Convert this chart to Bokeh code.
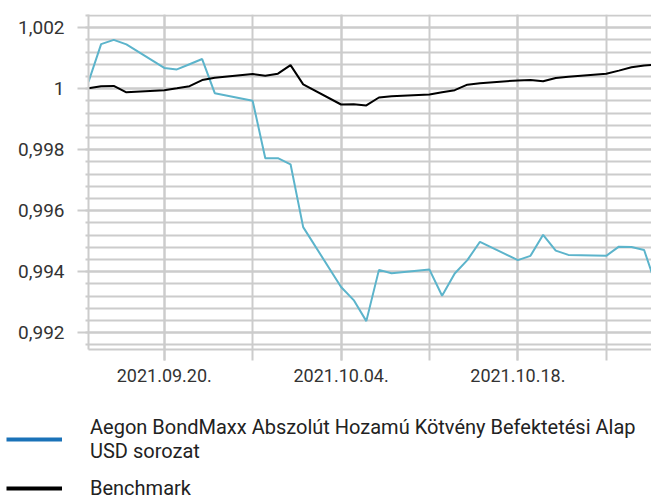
from datetime import datetime, timezone
from bokeh.plotting import figure
from bokeh.layouts import column
from bokeh.models import (ColumnDataSource, FixedTicker, DatetimeTickFormatter,
                          CustomJSTickFormatter, Legend, LegendItem, Range1d)
from bokeh.embed import file_html
from bokeh.resources import INLINE

# ---------------- data ----------------
dates = [
    "2021-09-14", "2021-09-15", "2021-09-16", "2021-09-17",
    "2021-09-20", "2021-09-21", "2021-09-22", "2021-09-23", "2021-09-24",
    "2021-09-27", "2021-09-28", "2021-09-29", "2021-09-30", "2021-10-01",
    "2021-10-04", "2021-10-05", "2021-10-06", "2021-10-07", "2021-10-08",
    "2021-10-11", "2021-10-12", "2021-10-13", "2021-10-14", "2021-10-15",
    "2021-10-18", "2021-10-19", "2021-10-20", "2021-10-21", "2021-10-22",
    "2021-10-25", "2021-10-26", "2021-10-27", "2021-10-28", "2021-10-29",
]
fund = [
    1.00022, 1.00146, 1.00160, 1.00145,
    1.00068, 1.00063, 1.00080, 1.00097, 0.99985,
    0.99960, 0.99772, 0.99772, 0.99752, 0.99546,
    0.99350, 0.99307, 0.99238, 0.99406, 0.99395,
    0.99407, 0.99321, 0.99394, 0.99438, 0.99498,
    0.99438, 0.99452, 0.99521, 0.99469, 0.99455,
    0.99452, 0.99482, 0.99481, 0.99471, 0.99348,
]
benchmark = [
    1.00001, 1.00008, 1.00009, 0.99988,
    0.99995, 1.00001, 1.00008, 1.00028, 1.00036,
    1.00048, 1.00042, 1.00049, 1.00077, 1.00014,
    0.99948, 0.99949, 0.99945, 0.99971, 0.99975,
    0.99981, 0.99988, 0.99995, 1.00013, 1.00018,
    1.00027, 1.00028, 1.00024, 1.00035, 1.00039,
    1.00049, 1.00059, 1.00070, 1.00076, 1.00078,
]
label_dates = ["2021-09-20", "2021-10-04", "2021-10-18"]
week_dates = ["2021-09-20", "2021-09-27", "2021-10-04", "2021-10-11", "2021-10-18", "2021-10-25"]
y_major = [0.992, 0.994, 0.996, 0.998, 1.000, 1.002]
fund_name = "Aegon BondMaxx Abszolút Hozamú Kötvény Befektetési Alap\nUSD sorozat"
bench_name = "Benchmark"


def to_dt(s):
    return datetime.strptime(s, "%Y-%m-%d")


def to_ms(s):
    return datetime.strptime(s, "%Y-%m-%d").replace(tzinfo=timezone.utc).timestamp() * 1000


source = ColumnDataSource(dict(date=[to_dt(d) for d in dates], fund=fund, bench=benchmark))

FONT = "Roboto"
GRID = "#cccccc"

x_start = datetime(2021, 9, 14, 0, 0)
x_end = datetime(2021, 10, 28, 14, 0)

p = figure(width=651, height=395, x_axis_type="datetime",
           x_range=Range1d(x_start, x_end), y_range=Range1d(0.99145, 1.00243),
           output_backend="svg", toolbar_location=None,
           min_border_left=88, min_border_right=0, min_border_top=14,
           min_border_bottom=46)
p.outline_line_color = None
p.background_fill_color = "white"
p.frame_align = False

# grids
p.xgrid.grid_line_color = GRID
p.xgrid.grid_line_width = 2
p.xgrid.minor_grid_line_color = GRID
p.xgrid.minor_grid_line_width = 2
p.ygrid.grid_line_color = GRID
p.ygrid.grid_line_width = 2
p.ygrid.minor_grid_line_color = GRID
p.ygrid.minor_grid_line_width = 2

# x axis
xa = p.xaxis[0]
xa.ticker = FixedTicker(ticks=[to_ms(d) for d in label_dates],
                        minor_ticks=[to_ms(d) for d in week_dates])
fmt = "%Y.%m.%d."
xa.formatter = DatetimeTickFormatter(days=fmt, months=fmt, years=fmt, hours=fmt,
                                     hourmin=fmt, minutes=fmt, minsec=fmt,
                                     seconds=fmt, milliseconds=fmt, microseconds=fmt)
xa.axis_line_color = GRID
xa.axis_line_width = 2
xa.major_tick_line_color = GRID
xa.major_tick_line_width = 2
xa.major_tick_out = 11
xa.major_tick_in = 0
xa.minor_tick_line_color = GRID
xa.minor_tick_line_width = 2
xa.minor_tick_out = 11
xa.minor_tick_in = 0
xa.major_label_text_font = FONT
xa.major_label_text_font_size = "18px"
xa.major_label_text_color = "#333333"
xa.major_label_standoff = 8

# y axis
ya = p.yaxis[0]
y_minor = [round(0.9916 + 0.0004 * k, 4) for k in range(28)]
ya.ticker = FixedTicker(ticks=y_major, minor_ticks=y_minor)
ya.formatter = CustomJSTickFormatter(
    code="return tick.toFixed(3).replace(/0+$/,'').replace(/\\.$/,'').replace('.',',');")
ya.axis_line_color = GRID
ya.axis_line_width = 2
ya.major_tick_line_color = GRID
ya.major_tick_line_width = 2
ya.major_tick_out = 11
ya.major_tick_in = 0
ya.minor_tick_line_color = GRID
ya.minor_tick_line_width = 2
ya.minor_tick_out = 3
ya.minor_tick_in = 0
ya.major_label_text_font = FONT
ya.major_label_text_font_size = "19px"
ya.major_label_text_color = "#333333"
ya.major_label_standoff = 13

# lines
p.line("date", "fund", source=source, line_color="#5cb4cb", line_width=2)
p.line("date", "bench", source=source, line_color="#000000", line_width=2)

# ---------------- legend panel ----------------
lg = figure(width=651, height=105, x_range=Range1d(0, 1), y_range=Range1d(0, 1),
            output_backend="svg", toolbar_location=None,
            x_axis_location=None, y_axis_location=None,
            min_border_left=0, min_border_right=0, min_border_top=0, min_border_bottom=0)
lg.outline_line_color = None
lg.xgrid.visible = False
lg.ygrid.visible = False
lg.frame_align = False

nan = float("nan")
r_fund = lg.line([nan], [nan], line_color="#1a72b8", line_width=4)
r_bench = lg.line([nan], [nan], line_color="#000000", line_width=4)

legend = Legend(items=[LegendItem(label=fund_name, renderers=[r_fund]),
                       LegendItem(label=bench_name, renderers=[r_bench])],
                location=(6, 0), orientation="vertical",
                padding=0, margin=0, spacing=13,
                glyph_width=56, glyph_height=24, label_standoff=28,
                label_text_font=FONT, label_text_font_size="20px",
                label_text_line_height=1.17,
                label_text_color="#222222",
                border_line_color=None, background_fill_alpha=0)
lg.add_layout(legend)

layout = column(p, lg, spacing=0)
open("out.html", "w").write(file_html(layout, INLINE))
